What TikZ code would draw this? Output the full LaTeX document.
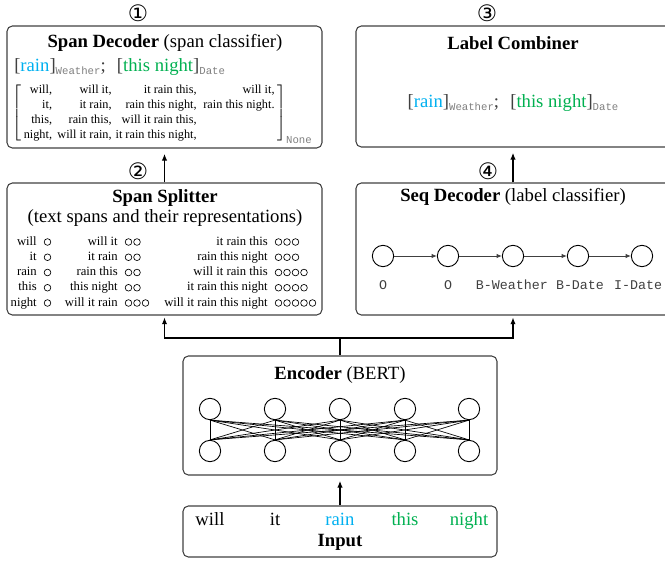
\documentclass[tikz,border=0pt]{standalone}
\usepackage{fontspec}
\setmainfont{Liberation Serif}
\setmonofont{Liberation Mono}
\newfontfamily\circfont{DejaVu Sans}
\usetikzlibrary{arrows.meta,positioning}

\definecolor{rainblue}{HTML}{00B0F0}
\definecolor{nightgreen}{HTML}{00B050}
\definecolor{darkgray}{HTML}{404040}
\definecolor{taggray}{HTML}{7F7F7F}

% [text]_{tag} with coloured text
\newcommand{\tagspan}[3]{{\color{darkgray}[}{\color{#1}#2}{\color{darkgray}]}\raisebox{-0.35ex}{\fontsize{8}{8}\selectfont\ttfamily\color{taggray}#3}}

\tikzset{
  stage/.style={draw=darkgray, line width=0.8pt, rounded corners=4pt, inner sep=0pt},
  title/.style={font=\fontsize{14}{15}\selectfont, align=center},
  spantext/.style={font=\fontsize{9.5}{11}\selectfont, anchor=base east, inner sep=0pt},
  unit/.style={draw, circle, line width=0.7pt, minimum size=16pt, inner sep=0pt},
  stepno/.style={font=\circfont\fontsize{17}{17}\selectfont},
  tagtext/.style={font=\fontsize{10}{10}\selectfont\ttfamily, text=darkgray},
}

\begin{document}
\begin{tikzpicture}[x=0.75pt, y=-0.75pt, >={Latex[length=5pt,width=4pt]}]
  \useasboundingbox (0,0) rectangle (665,561);

  % stage boxes
  \node[stage, minimum width=236.25pt, minimum height=91.5pt] (spandec) at (164.5,87) {};
  \node[stage, minimum width=235.5pt, minimum height=90.75pt] (combiner) at (513,86.5) {};
  \node[stage, minimum width=236.25pt, minimum height=99pt] (splitter) at (164.5,249) {};
  \node[stage, minimum width=235.5pt, minimum height=99pt] (seqdec) at (513,249) {};
  \node[stage, minimum width=235.5pt, minimum height=89.25pt] (encoder) at (340,415.5) {};
  \node[stage, minimum width=235.5pt, minimum height=38.25pt] (input) at (340,531.5) {};

  % step numbers
  \node[stepno] (n1) at (138,13) {①};
  \node[stepno] (n2) at (138,171) {②};
  \node[stepno] (n3) at (487,13) {③};
  \node[stepno] (n4) at (488,171) {④};

  % span decoder
  \node[title] (spandect) at (165,43) {\textbf{Span Decoder} (span classifier)};
  \node[anchor=west, inner sep=0pt, font=\fontsize{14}{14}\selectfont] (spandecy) at (14,67)
    {\tagspan{rainblue}{rain}{Weather}{\color{darkgray};}\hspace{0.6em}\tagspan{nightgreen}{this night}{Date}};
  \node[anchor=west, inner sep=0pt, font=\fontsize{9.2}{11.25}\selectfont] (spans) at (12,113.5)
    {$\left[\begin{tabular}{@{\hspace{2pt}}r@{\hspace{4pt}}r@{\hspace{3pt}}r@{\hspace{5pt}}r@{\hspace{2pt}}}
      will, & will it, & it rain this, & will it,\\
      it, & it rain, & rain this night, & rain this night.\\
      this, & rain this, & will it rain this, & \\
      night, & will it rain, & it rain this night, &
    \end{tabular}\right]_{\mbox{\fontsize{8}{8}\selectfont\ttfamily\color{taggray}None}}$};

  % label combiner
  \node[title] (combinert) at (513,43) {\textbf{Label Combiner}};
  \node[inner sep=0pt, font=\fontsize{14}{14}\selectfont] (combined) at (513,103)
    {\tagspan{rainblue}{rain}{Weather}{\color{darkgray};}\hspace{0.6em}\tagspan{nightgreen}{this night}{Date}};

  % span splitter
  \node[title] (splittert) at (165,208) {\textbf{Span Splitter}\\(text spans and their representations)};
  \foreach \s/\n [count=\r] in {will/1, it/1, rain/1, this/1, night/1} {
    \node[spantext] (a\r) at (37,{245+15.25*(\r-1)}) {\s};
    \foreach \k in {1,...,\n}
      \draw[line width=0.5pt] ({37+10.5+8.5*(\k-1)},{242+15.25*(\r-1)}) circle (2.5pt);
  }
  \foreach \s/\n [count=\r] in {will it/2, it rain/2, rain this/2, this night/2, will it rain/3} {
    \node[spantext] (b\r) at (118,{245+15.25*(\r-1)}) {\s};
    \foreach \k in {1,...,\n}
      \draw[line width=0.5pt] ({118+10.5+8.5*(\k-1)},{242+15.25*(\r-1)}) circle (2.5pt);
  }
  \foreach \s/\n [count=\r] in {it rain this/3, rain this night/3, will it rain this/4,
                                it rain this night/4, will it rain this night/5} {
    \node[spantext] (c\r) at (268,{245+15.25*(\r-1)}) {\s};
    \foreach \k in {1,...,\n}
      \draw[line width=0.5pt] ({268+10.5+8.5*(\k-1)},{242+15.25*(\r-1)}) circle (2.5pt);
  }

  % seq decoder
  \node[title] (seqdect) at (513,197) {\textbf{Seq Decoder} (label classifier)};
  \foreach \i/\x in {1/383, 2/448, 3/513, 4/578, 5/642}
    \node[unit] (s\i) at (\x,256) {};
  \foreach \i/\j in {1/2, 2/3, 3/4, 4/5}
    \draw[-{Latex[length=4pt,width=3.5pt]}, darkgray, line width=0.7pt] (s\i) -- (s\j);
  \foreach \i/\x/\t in {1/383/O, 2/448/O, 3/512/B-Weather, 4/580/B-Date, 5/638/I-Date}
    \node[tagtext] (t\i) at (\x,285) {\t};

  % encoder
  \node[title] (encodert) at (340,375) {\textbf{Encoder} (BERT)};
  \foreach \i/\x in {1/210, 2/275, 3/340, 4/405, 5/469} {
    \node[unit] (h\i) at (\x,409) {};
    \node[unit] (e\i) at (\x,451) {};
  }
  \foreach \i in {1,...,5}
    \foreach \j in {1,...,5}
      \draw[line width=0.5pt] (h\i.south) -- (e\j.north);

  % input
  \foreach \i/\x/\w in {1/210/will, 2/275/it, 3/340/{\color{rainblue}rain},
                        4/405/{\color{nightgreen}this}, 5/469/{\color{nightgreen}night}}
    \node[font=\fontsize{14}{14}\selectfont, anchor=base] (w\i) at (\x,525) {\w};
  \node[font=\fontsize{14}{14}\selectfont\bfseries, anchor=base] (inputt) at (340,546) {Input};

  % connectors
  \coordinate (fork) at (340,338);
  \draw[line width=0.8pt] (encoder.north) -- (fork);
  \draw[->, line width=0.8pt, shorten >=1.5pt] (fork) -| (splitter.south);
  \draw[->, line width=0.8pt, shorten >=1.5pt] (fork) -| (seqdec.south);
  \draw[->, line width=0.8pt, shorten >=4pt] (input.north) -- (encoder.south);
  \draw[->, line width=0.8pt, shorten >=4pt] (splitter.north) -- (spandec.south);
  \draw[->, line width=0.8pt, shorten >=4pt] (seqdec.north) -- (combiner.south);
\end{tikzpicture}
\end{document}
